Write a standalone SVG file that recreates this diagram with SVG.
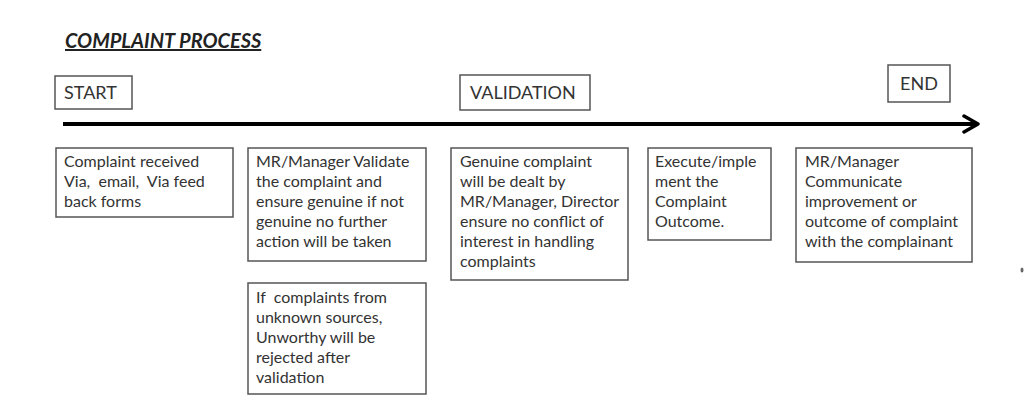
<svg xmlns="http://www.w3.org/2000/svg" width="1024" height="407" viewBox="0 0 1024 407">
<defs>
<style>
.box{fill:#fff;stroke:#555;stroke-width:1.5}
.t{font-family:Lato,"Open Sans","Liberation Sans",sans-serif;font-size:16px;fill:#333;white-space:pre}
.h{font-family:Lato,"Open Sans","Liberation Sans",sans-serif;font-size:18px;fill:#333}
.title{font-family:Lato,"Open Sans","Liberation Sans",sans-serif;font-size:20px;font-weight:bold;font-style:italic;fill:#222;text-decoration:underline}
</style>
<marker id="arr" viewBox="0 0 20 20" refX="17" refY="10" markerWidth="20" markerHeight="20" markerUnits="userSpaceOnUse" orient="auto">
<path d="M3,2 L17,10 L3,18" fill="none" stroke="#000" stroke-width="3.5" stroke-linecap="round" stroke-linejoin="round"/>
</marker>
</defs>
<rect width="1024" height="407" fill="#fff"/>
<text class="title" x="65" y="48">COMPLAINT PROCESS</text>
<g id="connectors">
<line x1="63" y1="124" x2="978" y2="124" stroke="#000" stroke-width="3.8" marker-end="url(#arr)"/>
</g>
<g id="start"><rect class="box" x="55" y="76" width="77" height="33"/><text class="h" x="64" y="99">START</text></g>
<g id="validation"><rect class="box" x="460" y="75" width="130" height="35"/><text class="h" x="470" y="99">VALIDATION</text></g>
<g id="end"><rect class="box" x="888" y="65" width="62" height="37"/><text class="h" x="900" y="90">END</text></g>
<g id="received"><rect class="box" x="56" y="148" width="177" height="69"/>
<text class="t" x="64" y="167">Complaint received</text>
<text class="t" x="64" y="187" xml:space="preserve">Via,  email,  Via feed</text>
<text class="t" x="64" y="207">back forms</text></g>
<g id="validate"><rect class="box" x="248" y="148" width="178" height="113"/>
<text class="t" x="256" y="167">MR/Manager Validate</text>
<text class="t" x="256" y="187">the complaint and</text>
<text class="t" x="256" y="207">ensure genuine if not</text>
<text class="t" x="256" y="227">genuine no further</text>
<text class="t" x="256" y="247">action will be taken</text></g>
<g id="unknown"><rect class="box" x="248" y="283" width="178" height="111"/>
<text class="t" x="256" y="303" xml:space="preserve">If  complaints from</text>
<text class="t" x="256" y="323">unknown sources,</text>
<text class="t" x="256" y="343">Unworthy will be</text>
<text class="t" x="256" y="363">rejected after</text>
<text class="t" x="256" y="383">validation</text></g>
<g id="genuine"><rect class="box" x="451" y="148" width="177" height="132"/>
<text class="t" x="460" y="167">Genuine complaint</text>
<text class="t" x="460" y="187">will be dealt by</text>
<text class="t" x="460" y="207">MR/Manager, Director</text>
<text class="t" x="460" y="227">ensure no conflict of</text>
<text class="t" x="460" y="247">interest in handling</text>
<text class="t" x="460" y="267">complaints</text></g>
<g id="execute"><rect class="box" x="648" y="148" width="123" height="92"/>
<text class="t" x="655" y="167">Execute/imple</text>
<text class="t" x="655" y="187">ment the</text>
<text class="t" x="655" y="207">Complaint</text>
<text class="t" x="655" y="227">Outcome.</text></g>
<g id="communicate"><rect class="box" x="796" y="148" width="176" height="114"/>
<text class="t" x="805" y="167">MR/Manager</text>
<text class="t" x="805" y="187">Communicate</text>
<text class="t" x="805" y="207">improvement or</text>
<text class="t" x="805" y="227">outcome of complaint</text>
<text class="t" x="805" y="247">with the complainant</text></g>
<ellipse cx="1022" cy="270" rx="1.5" ry="2.5" fill="#666"/>
</svg>
